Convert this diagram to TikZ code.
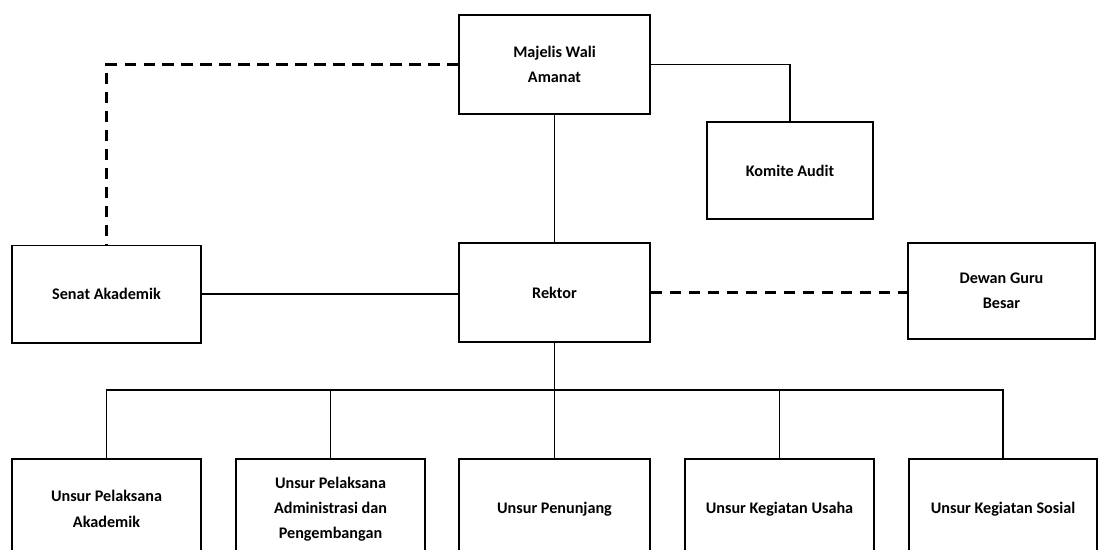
\documentclass[tikz,border=0pt]{standalone}
\usepackage{fontspec}
\setmainfont{Carlito}
\usepackage{tikz}
\usetikzlibrary{positioning, calc}

\begin{document}
\begin{tikzpicture}[x=0.025cm, y=-0.025cm,
    unit/.style={draw, line width=1.4pt, align=center, inner sep=2pt,
                 font=\fontsize{11.5}{18}\selectfont\bfseries},
    link/.style={line width=1.4pt},
    loose/.style={line width=1.5pt, dash pattern=on 8pt off 5.5pt}]
      \useasboundingbox (0,0) rectangle (1098,549);
      % top level
      \node[unit, minimum width=4.75cm, minimum height=2.475cm] (maw) at (554.5, 64.5)
        {Majelis Wali\\Amanat};
      \node[unit, minimum width=4.15cm, minimum height=2.425cm] (audit) at (790, 170.5)
        {Komite Audit};
      % middle row
      \node[unit, minimum width=4.725cm, minimum height=2.425cm] (senat) at (106.5, 294)
        {Senat Akademik};
      \node[unit, minimum width=4.775cm, minimum height=2.475cm] (rektor) at (554.5, 292.5)
        {Rektor};
      \node[unit, minimum width=4.675cm, minimum height=2.4cm] (dgb) at (1001.5, 291)
        {Dewan Guru\\Besar};
      % bottom row (cut by the page edge)
      \node[unit, minimum width=4.725cm, minimum height=2.5cm] (u1) at (106.5, 509)
        {Unsur Pelaksana\\Akademik};
      \node[unit, minimum width=4.725cm, minimum height=2.5cm] (u2) at (330.5, 509)
        {Unsur Pelaksana\\Administrasi dan\\Pengembangan};
      \node[unit, minimum width=4.775cm, minimum height=2.5cm] (u3) at (554.5, 509)
        {Unsur Penunjang};
      \node[unit, minimum width=4.725cm, minimum height=2.5cm] (u4) at (779.5, 509)
        {Unsur Kegiatan Usaha};
      \node[unit, minimum width=4.7cm, minimum height=2.5cm] (u5) at (1003, 509)
        {Unsur Kegiatan Sosial};
      \coordinate (bus) at (554.5, 390);

      \draw[link] (maw.east) -| (audit.north);
      \draw[link] (maw.south) -- (rektor.north);
      \draw[loose] (maw.west) -| (senat.north);
      \draw[link] (senat.east) -- (senat.east -| rektor.west);
      \draw[loose] (rektor.east) -- (rektor.east -| dgb.west);
      \draw[link] (rektor.south) -- (bus);
      \foreach \u in {u1, u2, u3, u4, u5}
        \draw[link] (bus) -| (\u.north);
    \end{tikzpicture}
\end{document}
